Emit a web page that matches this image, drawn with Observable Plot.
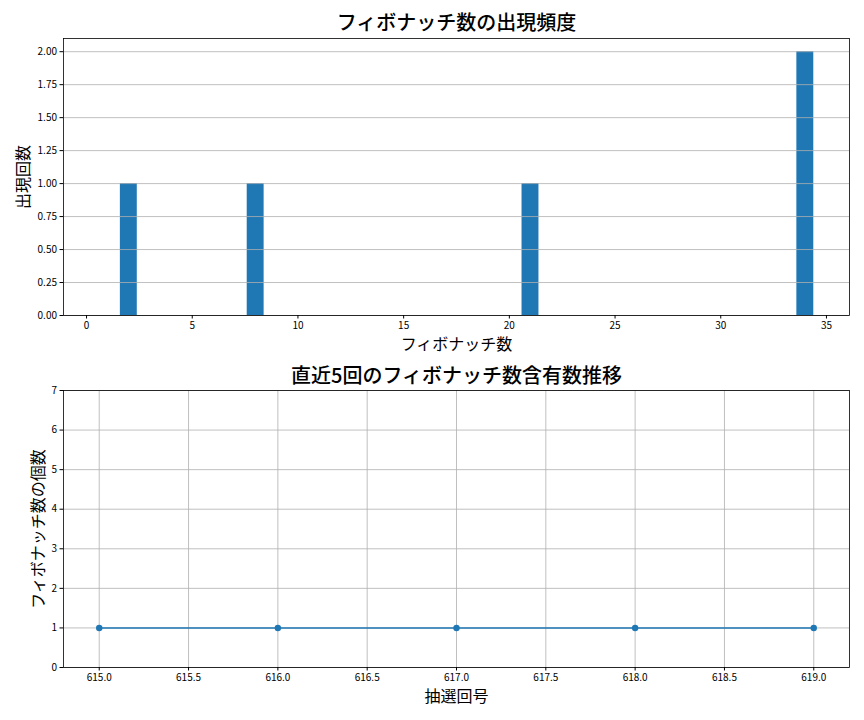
<!DOCTYPE html>
<html><head><meta charset="utf-8">
<script src="https://cdn.jsdelivr.net/npm/d3@7"></script>
<script src="https://cdn.jsdelivr.net/npm/@observablehq/plot@0.6"></script>
<style>
body{margin:0;background:#fff;}
#c{width:864px;}
#c svg{display:block;}
</style>
</head><body><div id="c"></div>
<script>
const fibNumbers = [1, 2, 3, 5, 8, 13, 21, 34];
const fibCounts = [0, 1, 0, 0, 1, 0, 1, 2];
const topXTicks = [0, 5, 10, 15, 20, 25, 30, 35];
const topYTicks = [0, 0.25, 0.5, 0.75, 1, 1.25, 1.5, 1.75, 2];
const draws = [615, 616, 617, 618, 619];
const fibPerDraw = [1, 1, 1, 1, 1];
const botXTicks = [615, 615.5, 616, 616.5, 617, 617.5, 618, 618.5, 619];
const botYTicks = [0, 1, 2, 3, 4, 5, 6, 7];

const FONT = "'Noto Sans CJK JP', 'Noto Sans', sans-serif";
const BLUE = "#1f77b4";
const GRID = "#b0b0b0";

const barData = fibNumbers.map((n, i) => ({n, count: fibCounts[i]}));
const lineData = draws.map((d, i) => ({draw: d, count: fibPerDraw[i]}));

const chartTop = Plot.plot({
  width: 864, height: 360,
  marginTop: 38, marginBottom: 45, marginLeft: 63, marginRight: 15,
  style: {fontFamily: FONT, fontSize: "10px", color: "#000", background: "#fff"},
  x: {domain: [-1.09, 36.09], ticks: topXTicks, tickFormat: d3.format("d")},
  y: {domain: [0, 2.1], ticks: topYTicks, tickFormat: d => d.toFixed(2)},
  marks: [
    Plot.rectY(barData, {x1: d => d.n - 0.4, x2: d => d.n + 0.4, y: "count", fill: BLUE}),
    Plot.gridY(topYTicks, {stroke: GRID, strokeOpacity: 1, strokeWidth: 0.8}),
    Plot.axisX({ticks: topXTicks, tickSize: 3.5, tickPadding: 3, label: null, tickFormat: d3.format("d"), fontSize: 10}),
    Plot.axisY({ticks: topYTicks, tickSize: 3.5, tickPadding: 3, label: null, tickFormat: d => d.toFixed(2), fontSize: 10}),
    Plot.frame({stroke: "#000", strokeWidth: 0.8}),
    Plot.text(["フィボナッチ数の出現頻度"], {frameAnchor: "top", dy: -15, lineAnchor: "middle", fontSize: 20, fontWeight: 500, fill: "#000"}),
    Plot.text(["フィボナッチ数"], {frameAnchor: "bottom", dy: 29, lineAnchor: "middle", fontSize: 16, fill: "#000"}),
    Plot.text(["出現回数"], {frameAnchor: "left", dx: -40, rotate: -90, textAnchor: "middle", lineAnchor: "middle", fontSize: 16, fill: "#000"})
  ]
});

const chartBottom = Plot.plot({
  width: 864, height: 360,
  marginTop: 30, marginBottom: 53, marginLeft: 63, marginRight: 15,
  style: {fontFamily: FONT, fontSize: "10px", color: "#000", background: "#fff"},
  x: {domain: [614.8, 619.2], ticks: botXTicks, tickFormat: d => d.toFixed(1)},
  y: {domain: [0, 7], ticks: botYTicks, tickFormat: d3.format("d")},
  marks: [
    Plot.gridX(botXTicks, {stroke: GRID, strokeOpacity: 1, strokeWidth: 0.8}),
    Plot.gridY(botYTicks, {stroke: GRID, strokeOpacity: 1, strokeWidth: 0.8}),
    Plot.line(lineData, {x: "draw", y: "count", stroke: BLUE, strokeWidth: 1.5}),
    Plot.dot(lineData, {x: "draw", y: "count", fill: BLUE, r: 3.2}),
    Plot.axisX({ticks: botXTicks, tickSize: 3.5, tickPadding: 3, label: null, tickFormat: d => d.toFixed(1), fontSize: 10}),
    Plot.axisY({ticks: botYTicks, tickSize: 3.5, tickPadding: 3, label: null, tickFormat: d3.format("d"), fontSize: 10}),
    Plot.frame({stroke: "#000", strokeWidth: 0.8}),
    Plot.text(["直近5回のフィボナッチ数含有数推移"], {frameAnchor: "top", dy: -14, lineAnchor: "middle", fontSize: 20, fontWeight: 500, fill: "#000"}),
    Plot.text(["抽選回号"], {frameAnchor: "bottom", dy: 29.5, lineAnchor: "middle", fontSize: 16, fill: "#000"}),
    Plot.text(["フィボナッチ数の個数"], {frameAnchor: "left", dx: -25, rotate: -90, textAnchor: "middle", lineAnchor: "middle", fontSize: 16, fill: "#000"})
  ]
});

document.getElementById("c").append(chartTop, chartBottom);
</script>
</body></html>
